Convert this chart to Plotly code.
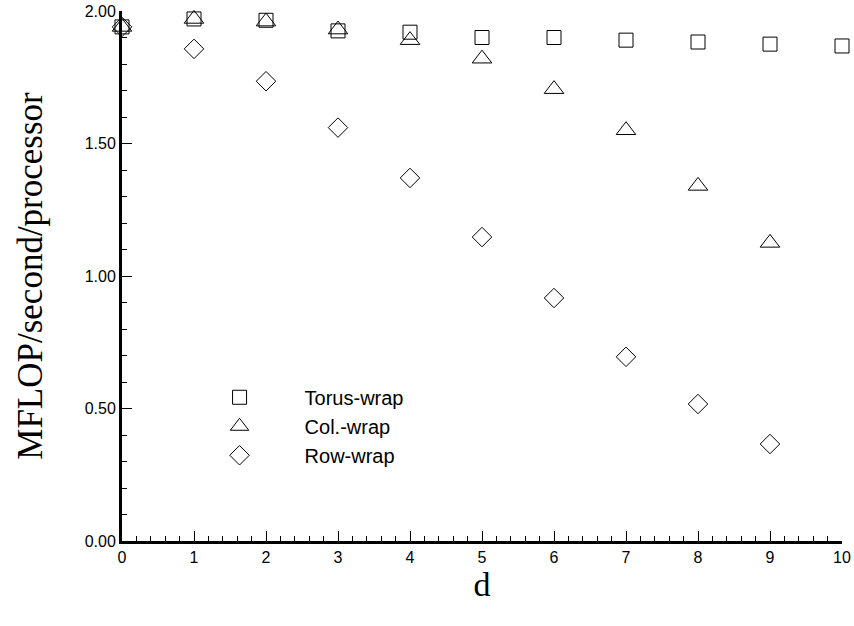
import plotly.graph_objects as go

d_torus = [0, 1, 2, 3, 4, 5, 6, 7, 8, 9, 10]
torus_wrap = [1.94, 1.97, 1.965, 1.925, 1.92, 1.90, 1.90, 1.89, 1.883, 1.875, 1.868]
d_col = [0, 1, 2, 3, 4, 5, 6, 7, 8, 9]
col_wrap = [1.94, 1.97, 1.96, 1.93, 1.89, 1.82, 1.705, 1.55, 1.34, 1.125]
d_row = [0, 1, 2, 3, 4, 5, 6, 7, 8, 9]
row_wrap = [1.94, 1.857, 1.735, 1.56, 1.37, 1.147, 0.917, 0.695, 0.517, 0.366]
names = ["Torus-wrap", "Col.-wrap", "Row-wrap"]
x_ticks = [0, 1, 2, 3, 4, 5, 6, 7, 8, 9, 10]
y_ticks = [0, 0.5, 1.0, 1.5, 2.0]
y_ticklabels = ["0.00", "0.50", "1.00", "1.50", "2.00"]

fig = go.Figure()
fig.add_trace(go.Scatter(x=d_torus, y=torus_wrap, mode="markers", name=names[0],
                         marker=dict(symbol="square-open", size=14, color="black", line=dict(width=1, color="black")),
                         cliponaxis=False))
fig.add_trace(go.Scatter(x=d_col, y=col_wrap, mode="markers", name=names[1],
                         marker=dict(symbol="triangle-up-open", size=17, color="black", line=dict(width=1, color="black")),
                         cliponaxis=False))
fig.add_trace(go.Scatter(x=d_row, y=row_wrap, mode="markers", name=names[2],
                         marker=dict(symbol="diamond-open", size=15, color="black", line=dict(width=1, color="black")),
                         cliponaxis=False))

fig.update_layout(
    width=854, height=626,
    margin=dict(l=122, r=12, t=11, b=85, autoexpand=False),
    paper_bgcolor="white", plot_bgcolor="white",
    font=dict(family="Liberation Sans, Arial", color="black", size=16),
    legend=dict(x=0.073, y=0.308, xanchor="left", yanchor="top",
                bgcolor="rgba(0,0,0,0)", borderwidth=0,
                font=dict(family="Liberation Sans, Arial", size=20),
                itemwidth=120, itemsizing="trace"),
)
fig.update_xaxes(
    range=[0, 10], tickvals=x_ticks, ticktext=[str(v) for v in x_ticks],
    ticks="inside", ticklen=10, tickwidth=1, tickcolor="black",
    minor=dict(dtick=0.2, ticks="inside", ticklen=5, tickwidth=1, tickcolor="black"),
    showline=True, linewidth=3, linecolor="black", showgrid=False, zeroline=False,
    tickfont=dict(size=16), automargin=False, ticklabeloverflow="allow",
    title=dict(text="d", font=dict(family="Liberation Serif, Times New Roman", size=34), standoff=1),
)
fig.update_yaxes(
    range=[0, 2.0], tickvals=y_ticks, ticktext=y_ticklabels,
    ticks="inside", ticklen=10, tickwidth=1, tickcolor="black",
    minor=dict(dtick=0.1, ticks="inside", ticklen=5, tickwidth=1, tickcolor="black"),
    showline=True, linewidth=3, linecolor="black", showgrid=False, zeroline=False,
    tickfont=dict(size=16), automargin=False, ticklabeloverflow="allow",
    title=dict(text="MFLOP/second/processor", font=dict(family="Liberation Serif, Times New Roman", size=35), standoff=32),
)

fig.write_html("out.html", config={"displayModeBar": False},
               post_script="document.body.style.margin='0px';")
